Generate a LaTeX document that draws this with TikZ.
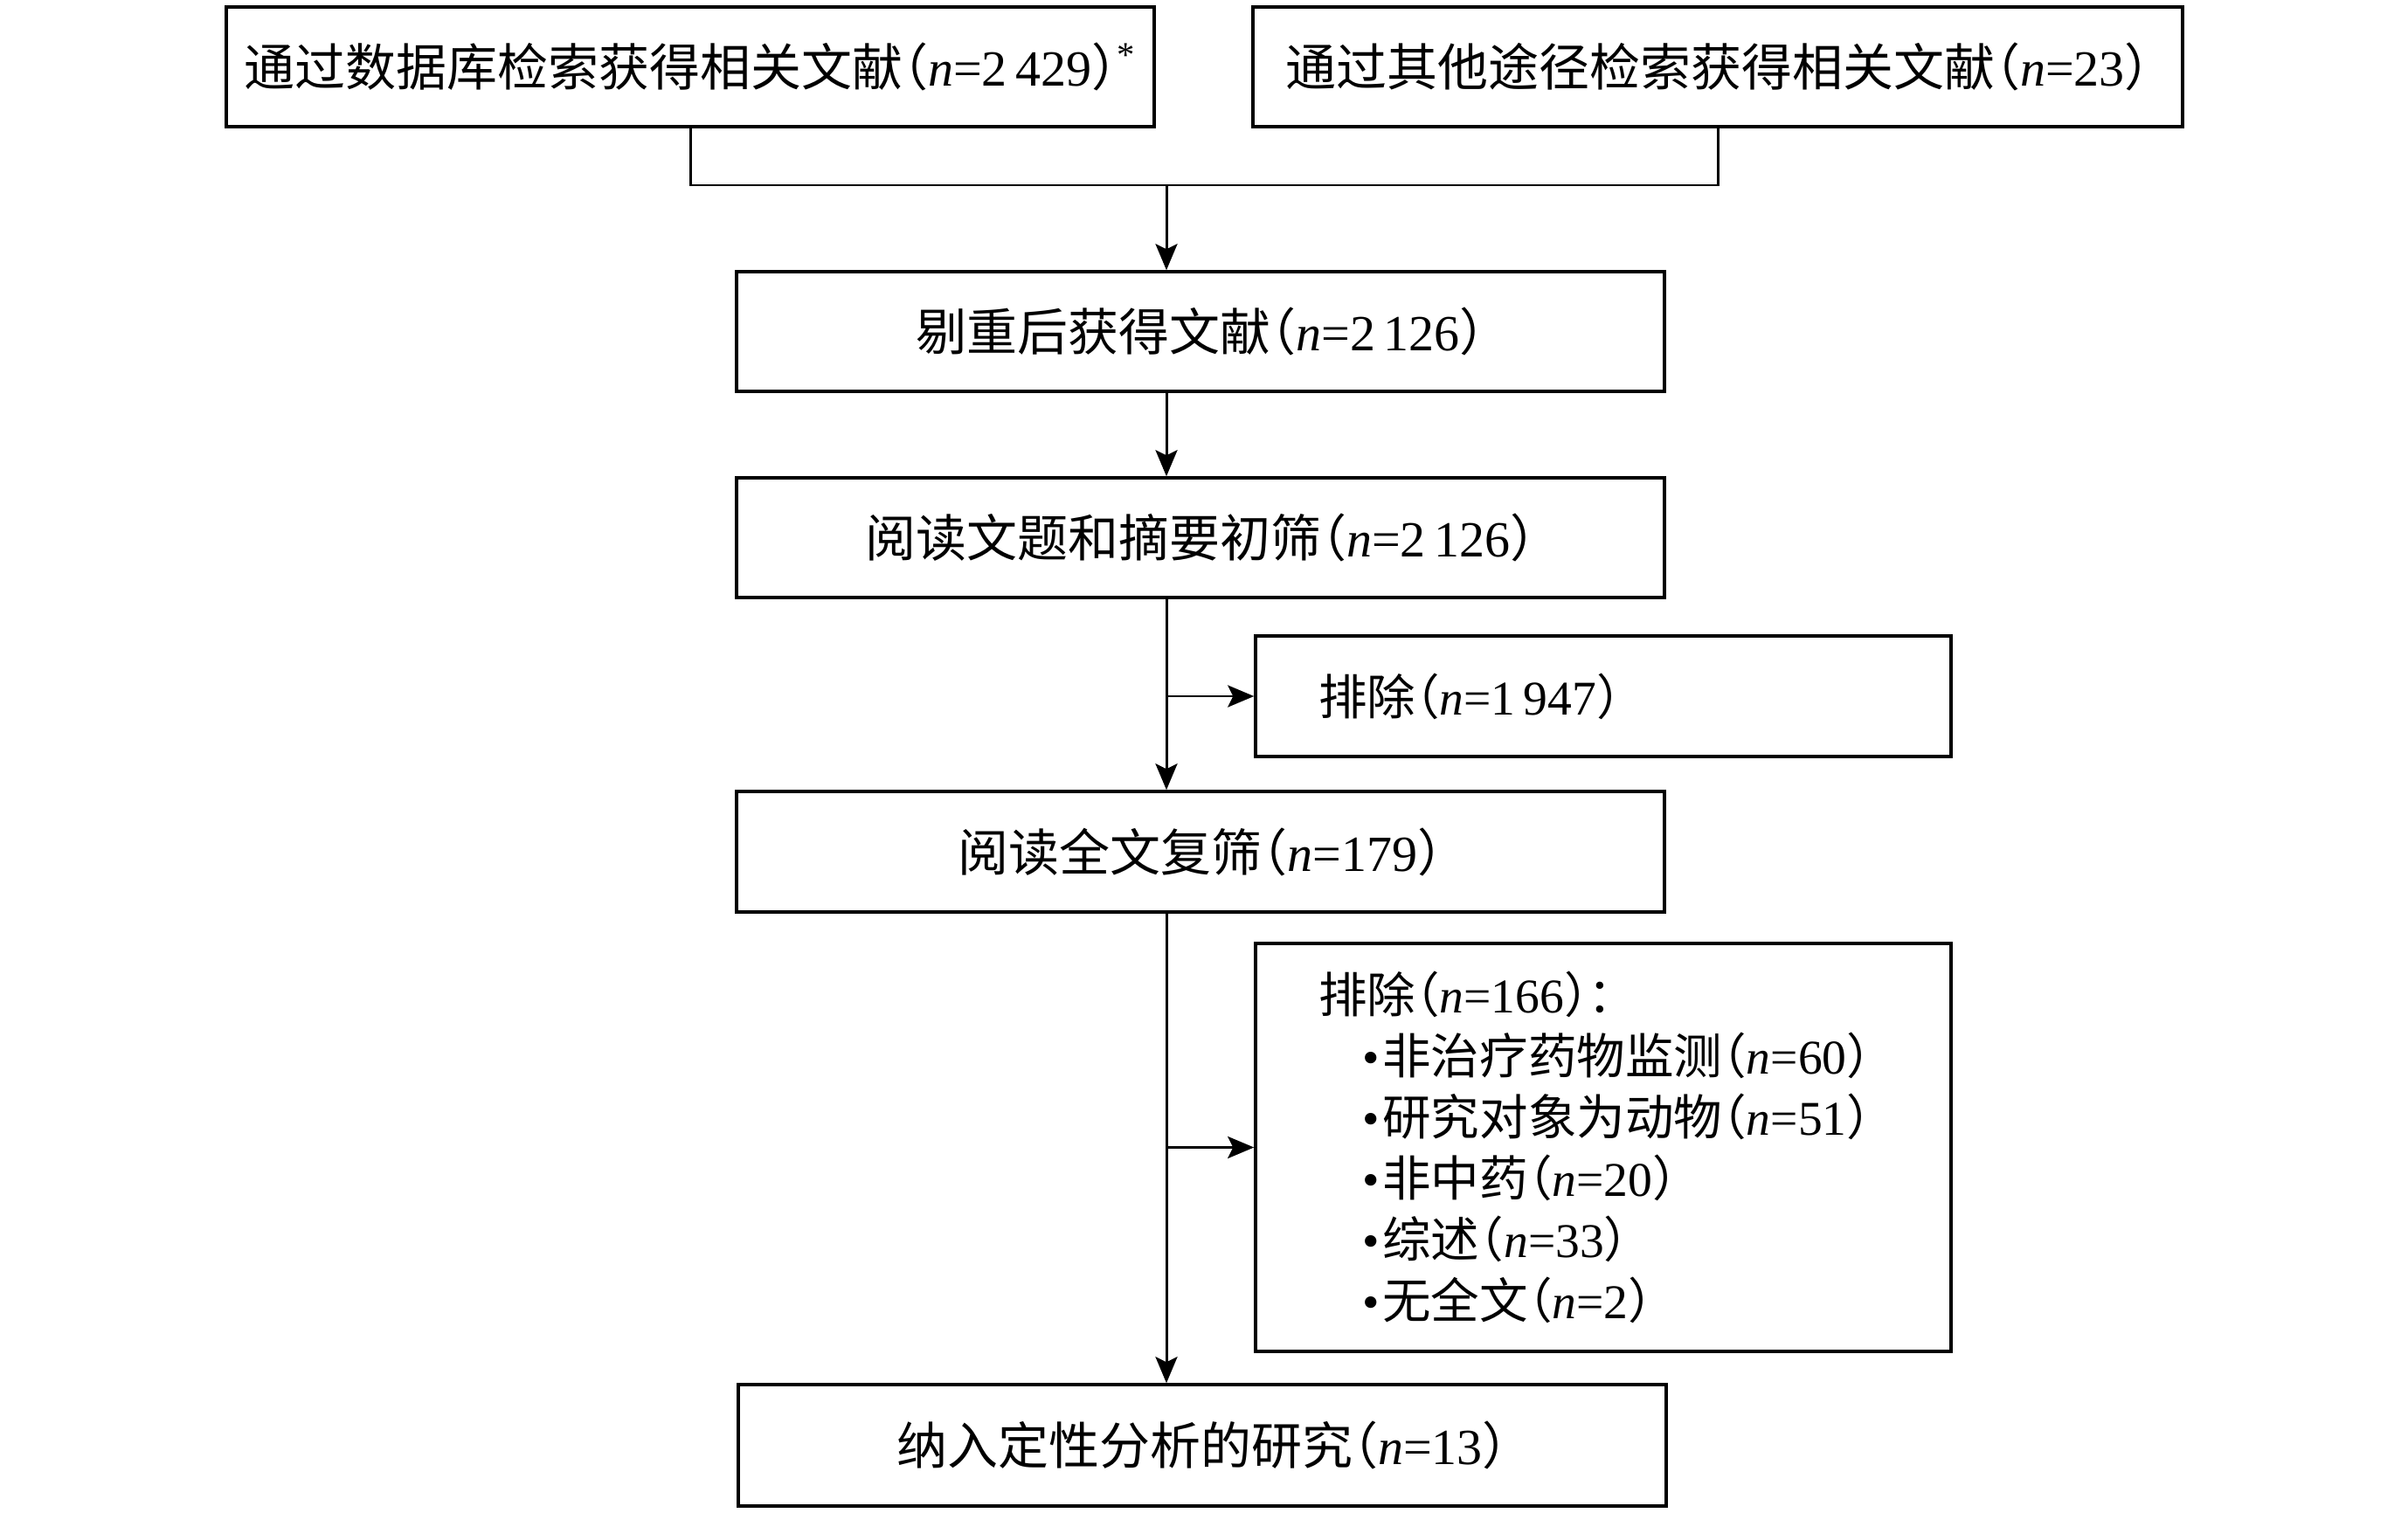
\documentclass[tikz,border=0pt]{standalone}
\usepackage{fontspec}
\setmainfont{Noto Sans CJK SC}[RawFeature=+halt]
\newfontfamily\tnr{Liberation Serif}
\usetikzlibrary{arrows.meta,positioning}
\newcommand{\nval}[1]{{\tnr\textit{n}=#1}}
\tikzset{
  box/.style={draw, line width=1pt, minimum height=1.37cm, inner sep=0pt, align=center,
    font=\fontsize{16.5pt}{20pt}\selectfont},
  exbox/.style={box, align=left, text width=6.52cm, inner xsep=0.72cm,
    font=\fontsize{15.8pt}{19.9pt}\selectfont},
  flow/.style={line width=0.85pt, -{Stealth[length=0.30cm, width=0.25cm, inset=0.06cm]}},
}
\newcommand{\itm}{\hspace*{0.5cm}{\tnr•}\nobreak\hspace{0.04cm}\nobreak}
\begin{document}
\begin{tikzpicture}[x=1cm,y=1cm]
  \useasboundingbox (0,0) rectangle (27.56,-17.32);

  \node[box, minimum width=10.62cm] (db) at (7.90,-0.765)
    {通过数据库检索获得相关文献（\nval{2\,429}）{\tnr\textsuperscript{*}}};
  \node[box, minimum width=10.64cm] (other) at (19.66,-0.765)
    {通过其他途径检索获得相关文献（\nval{23}）};
  \node[box, minimum width=10.62cm] (dedup) at (13.74,-3.795)
    {剔重后获得文献（\nval{2\,126}）};
  \node[box, minimum width=10.62cm] (screen) at (13.74,-6.155)
    {阅读文题和摘要初筛（\nval{2\,126}）};
  \node[exbox, minimum height=1.38cm] (excl1) at (18.35,-7.97)
    {排除（\nval{1\,947}）};
  \node[box, minimum width=10.62cm, minimum height=1.38cm] (full) at (13.74,-9.75)
    {阅读全文复筛（\nval{179}）};
  \node[exbox, minimum height=4.67cm] (excl2) at (18.35,-13.135)
    {排除（\nval{166}）：\\
     \itm 非治疗药物监测（\nval{60}）\\
     \itm 研究对象为动物（\nval{51}）\\
     \itm 非中药（\nval{20}）\\
     \itm 综述（\nval{33}）\\
     \itm 无全文（\nval{2}）};
  \node[box, minimum width=10.62cm, minimum height=1.39cm] (incl) at (13.76,-16.545)
    {纳入定性分析的研究（\nval{13}）};

  \coordinate (jn) at (13.35,-2.12);
  \draw[line width=0.85pt] (db.south) |- (jn) -| (other.south);
  \draw[flow] (jn) -- (jn |- dedup.north);
  \draw[flow] (jn |- dedup.south) -- (jn |- screen.north);
  \draw[flow] (jn |- screen.south) -- (jn |- full.north);
  \draw[flow] (jn |- excl1.west) -- (excl1.west);
  \draw[flow] (jn |- full.south) -- (jn |- incl.north);
  \draw[flow] (jn |- excl2.west) -- (excl2.west);
\end{tikzpicture}
\end{document}
